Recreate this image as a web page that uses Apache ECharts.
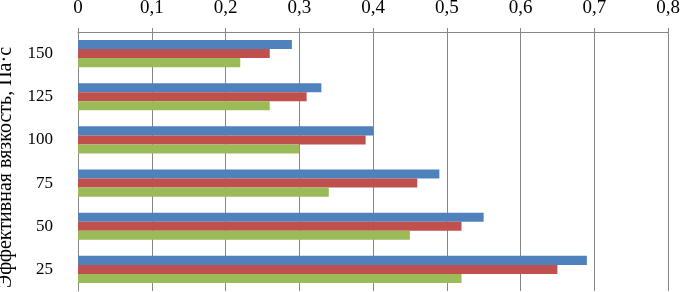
<!DOCTYPE html>
<html><head><meta charset="utf-8">
<script src="https://cdn.jsdelivr.net/npm/echarts@6/dist/echarts.min.js"></script>
<style>html,body{margin:0;padding:0;background:#fff}#c{width:680px;height:292px}</style>
</head><body><div id="c"></div>
<script>
const categories = ['25', '50', '75', '100', '125', '150'];
const seriesBlue  = [0.69, 0.55, 0.49, 0.40, 0.33, 0.29];
const seriesRed   = [0.65, 0.52, 0.46, 0.39, 0.31, 0.26];
const seriesGreen = [0.52, 0.45, 0.34, 0.30, 0.26, 0.22];
const tickLabels = ['0', '0,1', '0,2', '0,3', '0,4', '0,5', '0,6', '0,7', '0,8'];
const yTitle = 'Эффективная вязкость, Па·с';

const chart = echarts.init(document.getElementById('c'), null, {renderer: 'canvas'});
const font = '"Liberation Serif", "Times New Roman", serif';
const gray = '#868686';
chart.setOption({
  animation: false,
  textStyle: {fontFamily: font},
  grid: {left: 78, right: 12, top: 32, bottom: 1, containLabel: false, outerBoundsMode: 'none'},
  xAxis: {
    type: 'value', position: 'top', min: 0, max: 0.8, interval: 0.1,
    axisLine: {show: true, lineStyle: {color: gray, width: 1}},
    axisTick: {show: true, length: 4, lineStyle: {color: gray}},
    splitLine: {show: true, lineStyle: {color: gray, width: 1}},
    axisLabel: {
      margin: 14, color: '#000', fontSize: 19, fontFamily: font,
      formatter: function (v) { return tickLabels[Math.round(v * 10)]; }
    }
  },
  yAxis: {
    type: 'category', data: categories,
    axisLine: {show: true, lineStyle: {color: gray, width: 1}},
    axisTick: {show: false},
    axisLabel: {margin: 25, color: '#000', fontSize: 17, fontFamily: font},
    name: yTitle, nameLocation: 'middle', nameGap: 62, nameRotate: 90,
    nameTextStyle: {color: '#000', fontSize: 20, fontFamily: font, padding: [0, 12, 0, 0]}
  },
  series: [
    {type: 'bar', data: seriesBlue, itemStyle: {color: '#4F81BD'}, barGap: '0%', barCategoryGap: '37%'},
    {type: 'bar', data: seriesRed, itemStyle: {color: '#C0504D'}, barGap: '0%', barCategoryGap: '37%'},
    {type: 'bar', data: seriesGreen, itemStyle: {color: '#9BBB59'}, barGap: '0%', barCategoryGap: '37%'}
  ]
});
</script></body></html>
